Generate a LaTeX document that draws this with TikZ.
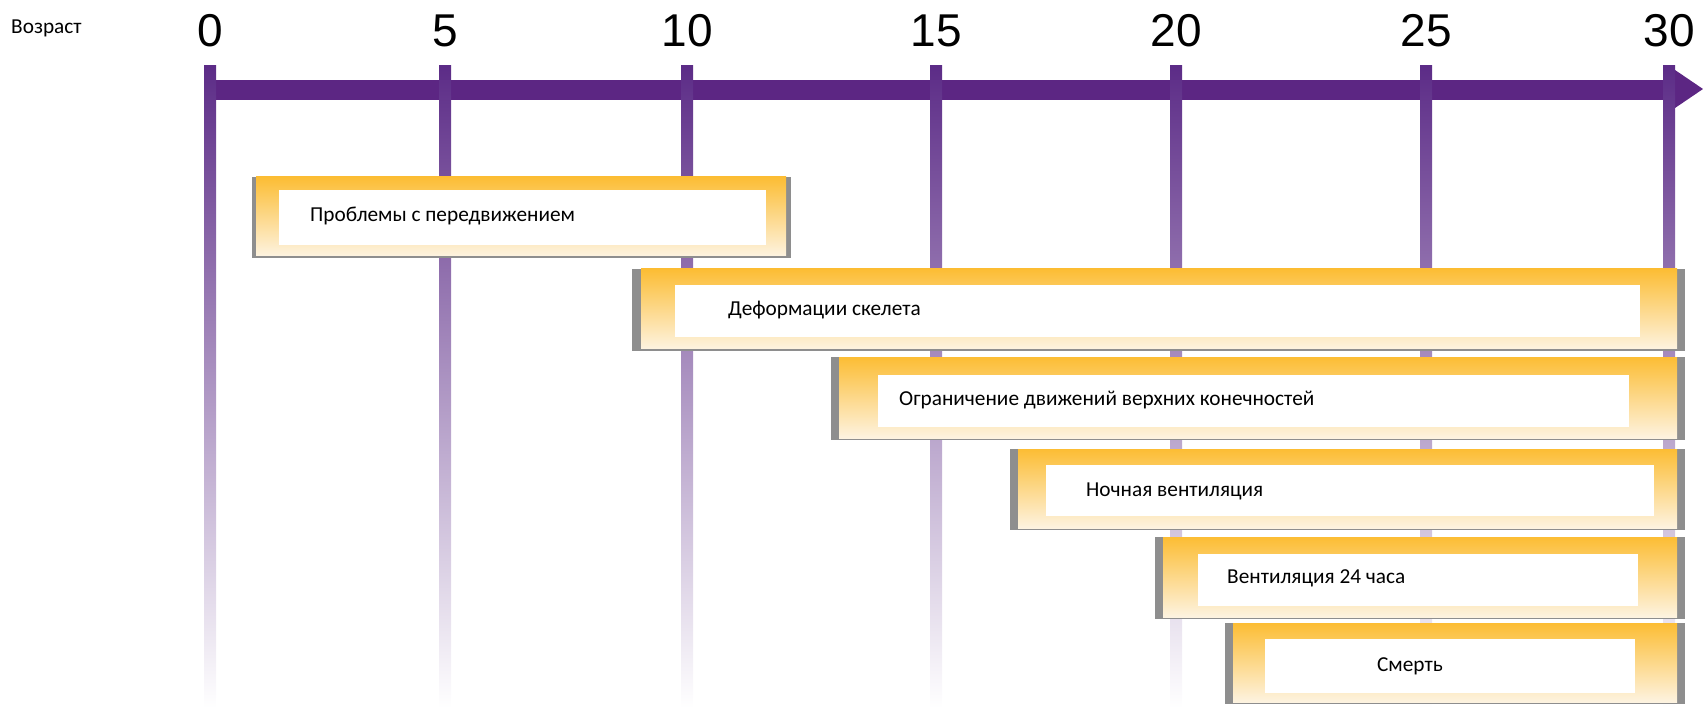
\documentclass[tikz,border=0pt]{standalone}
\usepackage{fontspec}
\setmainfont{Carlito}
\newfontfamily\numfont{Liberation Sans}
\definecolor{axispurple}{RGB}{92,38,131}
\definecolor{ticktop}{RGB}{92,44,135}
\definecolor{tickmid}{RGB}{160,148,185}
\definecolor{boxgrey}{RGB}{142,142,142}
\definecolor{boxorange}{RGB}{252,189,52}
\definecolor{boxcream}{RGB}{253,243,224}
\tikzset{
  numlabel/.style={font=\numfont\fontsize{46}{52}\selectfont, text=black, inner sep=0pt},
  boxtext/.style={font=\fontsize{21.3}{25}\selectfont, text=black, inner sep=0pt},
  ticklinestyle/.style={top color=ticktop, middle color=tickmid, bottom color=white},
  boxfill/.style={top color=boxorange, bottom color=boxcream},
}
\begin{document}
\begin{tikzpicture}[x=1pt,y=-1pt]
\useasboundingbox (0,0) rectangle (1703,711);
% label
\node[boxtext, anchor=west] (age) at (11,28) {Возраст};
% axis bar and arrow head
\fill[axispurple] (204,80) rectangle (1676,100);
\fill[axispurple] (1675,70) -- (1703,89) -- (1675,108) -- cycle;
% ticks and labels
\foreach \x/\l in {210/0,445/5,687/10,936/15,1176/20,1426/25,1669/30}{
  \shade[ticklinestyle] (\x-6,66) rectangle (\x+6,708);
  \node[numlabel] (lab\l) at (\x,31) {\l};
}
% box 1
\fill[boxgrey] (252,177) rectangle (791,258);
\shade[boxfill] (256,177) rectangle (786,256);
\fill[white] (279,190) rectangle (766,245);
\node[boxtext, anchor=west] (b1) at (310,216) {Проблемы с передвижением};
% box 2
\fill[boxgrey] (632,269) rectangle (1685,351);
\shade[boxfill] (641,269) rectangle (1677,349);
\fill[white] (675,285) rectangle (1640,337);
\node[boxtext, anchor=west] (b2) at (728,310) {Деформации скелета};
% box 3
\fill[boxgrey] (831,357) rectangle (1685,440);
\shade[boxfill] (839,357) rectangle (1677,438);
\fill[white] (878,375) rectangle (1629,427);
\node[boxtext, anchor=west] (b3) at (899,400) {Ограничение движений верхних конечностей};
% box 4
\fill[boxgrey] (1010,449) rectangle (1685,530);
\shade[boxfill] (1018,449) rectangle (1677,528);
\fill[white] (1046,465) rectangle (1654,516);
\node[boxtext, anchor=west] (b4) at (1086,491) {Ночная вентиляция};
% box 5
\fill[boxgrey] (1155,537) rectangle (1685,619);
\shade[boxfill] (1163,537) rectangle (1677,617);
\fill[white] (1198,554) rectangle (1638,606);
\node[boxtext, anchor=west] (b5) at (1227,578) {Вентиляция 24 часа};
% box 6
\fill[boxgrey] (1225,623) rectangle (1685,704);
\shade[boxfill] (1233,623) rectangle (1677,702);
\fill[white] (1265,639) rectangle (1635,693);
\node[boxtext] (b6) at (1410,666) {Смерть};
\end{tikzpicture}
\end{document}
